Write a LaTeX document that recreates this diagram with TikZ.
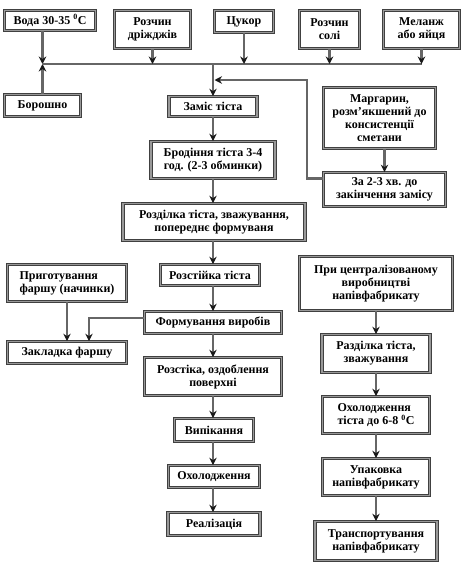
\documentclass[tikz,border=0pt]{standalone}
\usepackage{fontspec}
\setmainfont{Liberation Serif}
\usetikzlibrary{arrows.meta,calc}
\begin{document}
\begin{tikzpicture}[x=1pt,y=-1pt,
  box/.style={draw=black!75, double=black!40, line width=0.7pt, double distance=1.8pt,
    fill=white, inner sep=1pt, align=center,
    font=\fontsize{12}{13}\selectfont\bfseries},
  conn/.style={draw=black!60, line width=2.2pt},
  arr/.style={conn, -{Stealth[length=7.5pt,width=7.5pt,inset=2.5pt,color=black!90]}}]
\useasboundingbox (0,0) rectangle (464,570);
\fill[white] (0,0) rectangle (464,570);

% top row
\node[box, minimum width=91pt, minimum height=20pt] (voda) at (50,20.5) {Вода 30-35 \textsuperscript{0}C};
\node[box, minimum width=76pt, minimum height=38pt] (drizh) at (152.5,29.5) {Розчин\\дріжджів};
\node[box, minimum width=59pt, minimum height=22pt] (tsukor) at (244,21.5) {Цукор};
\node[box, minimum width=60pt, minimum height=38pt] (sil) at (329.5,29.5) {Розчин\\солі};
\node[box, minimum width=76pt, minimum height=38pt] (melanzh) at (421.5,29.5) {Меланж\\або яйця};
\node[box, minimum width=76pt, minimum height=22pt] (borosh) at (42.5,105.5) {Борошно};

% main column
\node[box, minimum width=88pt, minimum height=20pt] (zamis) at (213,106.5) {Заміс тіста};
\node[box, minimum width=124pt, minimum height=37pt] (brod) at (213,160) {Бродіння тіста 3-4\\год. (2-3 обминки)};
\node[box, minimum width=182pt, minimum height=37pt] (rozdil) at (214,222) {Розділка тіста, зважування,\\попереднє формуваня};
\node[box, minimum width=99pt, minimum height=21pt] (rozst) at (210,275) {Розстійка тіста};
\node[box, minimum width=137pt, minimum height=22pt] (form) at (213,322.5) {Формування виробів};
\node[box, minimum width=137pt, minimum height=38pt] (rozstika) at (213,376.5) {Розстіка, оздоблення\\поверхні};
\node[box, minimum width=79pt, minimum height=23pt] (vypik) at (214,430) {Випікання};
\node[box, minimum width=91pt, minimum height=22pt] (okhol) at (214,476.5) {Охолодження};
\node[box, minimum width=92pt, minimum height=23pt] (real) at (214,524) {Реалізація};

% margarine
\node[box, minimum width=112pt, minimum height=61pt] (marg) at (379.5,118) {Маргарин,\\розм’якшений до\\консистенції\\сметани};
\node[box, minimum width=122pt, minimum height=34pt] (za23) at (384.5,189.5) {За 2-3 хв. до\\закінчення замісу};

% left column
\node[box, minimum width=119pt, minimum height=37pt, align=left] (prygot) at (67,283) {Приготування\\фаршу (начинки)};
\node[box, minimum width=119pt, minimum height=22pt] (zaklad) at (67,352.5) {Закладка фаршу};

% right column
\node[box, minimum width=153pt, minimum height=54pt] (tsentr) at (376,283.5) {При централізованому\\виробництві\\напівфабрикату};
\node[box, minimum width=108pt, minimum height=38pt] (rozdil2) at (376,353.5) {Разділка тіста,\\зважування};
\node[box, minimum width=107pt, minimum height=37pt, align=left] (okhol2) at (376,415) {Охолодження\\тіста до 6-8 \textsuperscript{0}C};
\node[box, minimum width=107pt, minimum height=37pt] (upak) at (376,477) {Упаковка\\напівфабрикату};
\node[box, minimum width=122pt, minimum height=39pt] (transp) at (376,541) {Транспортування\\напівфабрикату};

% bus
\coordinate (busL) at (43,64);
\coordinate (busR) at (422,64);
\coordinate (busM) at (213,64);
\draw[conn] (busL) -- (busR);
\draw[arr] (borosh.north |- voda.south) -- (borosh.north |- busL);
\draw[arr] (borosh.north) -- (borosh.north |- busL);
\draw[arr] (drizh.south) -- (drizh.south |- busL);
\draw[arr] (tsukor.south) -- (tsukor.south |- busL);
\draw[arr] (sil.south) -- (sil.south |- busL);
\draw[arr] (melanzh.south) -- (melanzh.south |- busL);
\draw[arr] (busM) -- (busM |- zamis.north);

% margarine feed
\coordinate (j) at (307,80);
\draw[arr] (marg.south -| za23.north) -- (za23.north);
\draw[arr] ($(za23.west)+(0,-11)$) -| (j) -- ($(j -| busM)+(1.5,0)$);

% main chain
\draw[arr] (zamis.south -| busM) -- (busM |- brod.north);
\draw[arr] (brod.south -| busM) -- (busM |- rozdil.north);
\draw[arr] (rozdil.south -| busM) -- (busM |- rozst.north);
\draw[arr] (rozst.south -| busM) -- (busM |- form.north);
\draw[arr] (form.south -| busM) -- (busM |- rozstika.north);
\draw[arr] (rozstika.south -| busM) -- (busM |- vypik.north);
\draw[arr] (vypik.south -| busM) -- (busM |- okhol.north);
\draw[arr] (okhol.south -| busM) -- (busM |- real.north);

% filling
\coordinate (k) at (89,318);
\draw[arr] (prygot.south) -- (zaklad.north);
\draw[arr] (form.west |- k) -- (k) -- (k |- zaklad.north);

% right chain
\draw[arr] (tsentr.south) -- (rozdil2.north);
\draw[arr] (rozdil2.south) -- (okhol2.north);
\draw[arr] (okhol2.south) -- (upak.north);
\draw[arr] (upak.south) -- (transp.north);
\end{tikzpicture}
\end{document}
